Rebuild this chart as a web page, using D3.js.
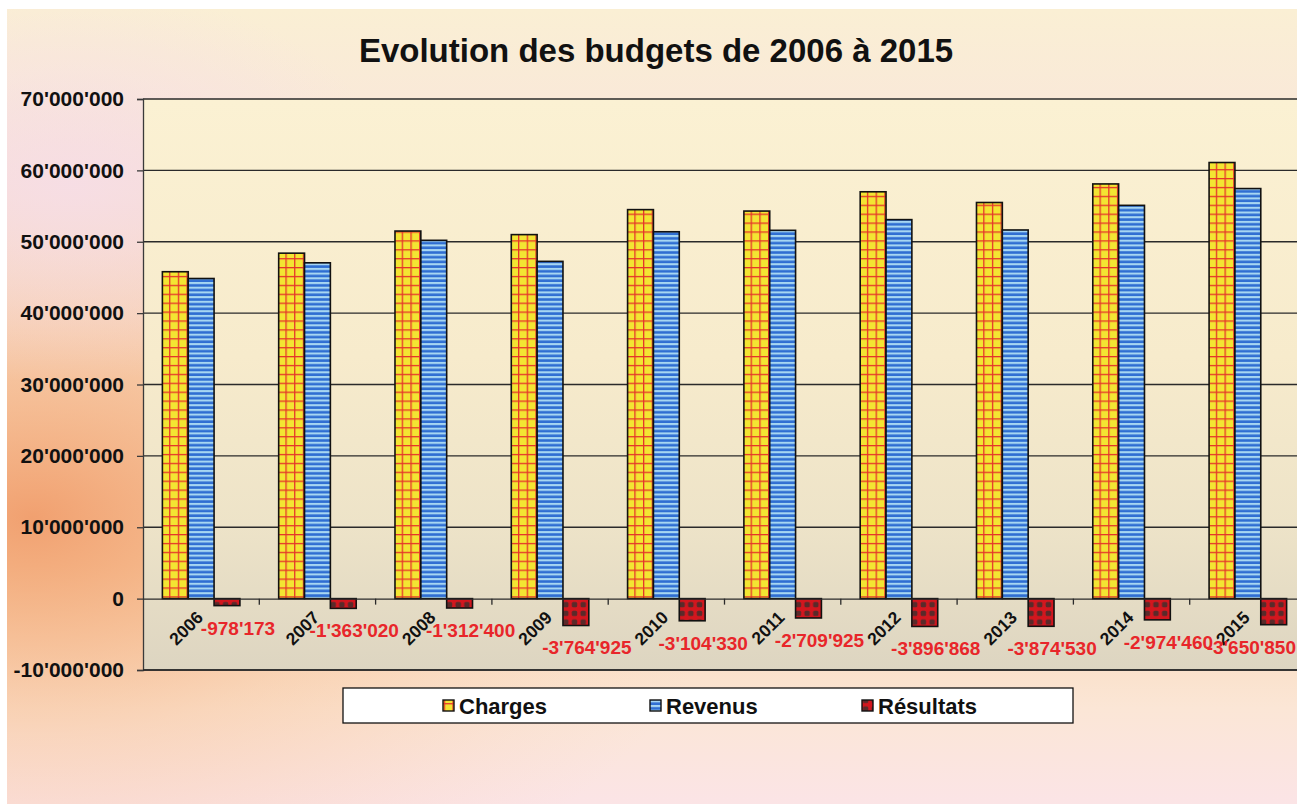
<!DOCTYPE html>
<html>
<head>
<meta charset="utf-8">
<script src="https://cdn.jsdelivr.net/npm/d3@7"></script>
<style>
  html, body { margin: 0; padding: 0; background: #ffffff; }
  svg { display: block; font-family: "Liberation Sans", Arial, sans-serif; }
</style>
</head>
<body>
<svg id="chart" width="1297" height="804"></svg>
<script>
// ---- data ----
const years = ["2006","2007","2008","2009","2010","2011","2012","2013","2014","2015"];
const charges = [45800000, 48400000, 51500000, 51000000, 54500000, 54300000, 57000000, 55500000, 58100000, 61100000];
const revenus = [44850000, 47050000, 50200000, 47250000, 51400000, 51600000, 53100000, 51650000, 55100000, 57450000];
const resultats = [-978173, -1363020, -1312400, -3764925, -3104330, -2709925, -3896868, -3874530, -2974460, -3650850];
const seriesNames = ["Charges", "Revenus", "Résultats"];
const yTicks = [-10000000, 0, 10000000, 20000000, 30000000, 40000000, 50000000, 60000000, 70000000];
const title = "Evolution des budgets de 2006 à 2015";

const fmt = v => (v < 0 ? "-" : "") + d3.format(",")(Math.abs(Math.round(v))).replace(/,/g, "'");

const svg = d3.select("#chart");
const defs = svg.append("defs");

// background gradients
const bg = defs.append("linearGradient").attr("id","bgGrad").attr("x1",0).attr("y1",0).attr("x2",0).attr("y2",1);
[[0,"#faefd4"],[0.22,"#f9e4dc"],[0.45,"#f8dcc4"],[0.7,"#f9d6b0"],[0.88,"#fbe6d6"],[1,"#fbe4e6"]]
  .forEach(([o,c]) => bg.append("stop").attr("offset",o).attr("stop-color",c));
const rad = defs.append("radialGradient").attr("id","bgRad").attr("cx",0.02).attr("cy",0.64).attr("r",0.55);
rad.append("stop").attr("offset",0).attr("stop-color","#f09a68").attr("stop-opacity",0.9);
rad.append("stop").attr("offset",0.5).attr("stop-color","#f6b888").attr("stop-opacity",0.35);
rad.append("stop").attr("offset",1).attr("stop-color","#f8d0b0").attr("stop-opacity",0);
const rad2 = defs.append("radialGradient").attr("id","bgRad2").attr("cx",0.05).attr("cy",0.22).attr("r",0.25);
rad2.append("stop").attr("offset",0).attr("stop-color","#f6dde6").attr("stop-opacity",0.9);
rad2.append("stop").attr("offset",1).attr("stop-color","#f6dde6").attr("stop-opacity",0);

const plotGrad = defs.append("linearGradient").attr("id","plotGrad").attr("x1",0).attr("y1",0).attr("x2",0).attr("y2",1);
[[0,"#fbf1d3"],[0.45,"#f7ebcc"],[0.75,"#ede3c8"],[1,"#ddd5c1"]]
  .forEach(([o,c]) => plotGrad.append("stop").attr("offset",o).attr("stop-color",c));

// patterns
const pC = defs.append("pattern").attr("id","patCharges").attr("patternUnits","userSpaceOnUse")
  .attr("width",8.7).attr("height",8.9);
pC.append("rect").attr("width",8.7).attr("height",8.9).attr("fill","#f3e532");
pC.append("rect").attr("x",0).attr("y",0).attr("width",1.3).attr("height",8.9).attr("fill","#e5352a");
pC.append("rect").attr("x",0).attr("y",0).attr("width",8.7).attr("height",1.3).attr("fill","#e5352a");

const pR = defs.append("pattern").attr("id","patRevenus").attr("patternUnits","userSpaceOnUse")
  .attr("width",8).attr("height",4.7);
pR.append("rect").attr("width",8).attr("height",4.7).attr("fill","#2f6ed2");
pR.append("rect").attr("y",0).attr("width",8).attr("height",2.1).attr("fill","#a6d6f2");

const pS = defs.append("pattern").attr("id","patResultats").attr("patternUnits","userSpaceOnUse")
  .attr("width",8.7).attr("height",8.7);
pS.append("rect").attr("width",8.7).attr("height",8.7).attr("fill","#d3161e");
pS.append("rect").attr("x",1.6).attr("y",1.6).attr("width",5.4).attr("height",5.4).attr("rx",1.5).attr("fill","#5a2a2a");

const fills = {"Charges":"url(#patCharges)","Revenus":"url(#patRevenus)","Résultats":"url(#patResultats)"};

// background
svg.append("rect").attr("x",7).attr("y",9).attr("width",1290).attr("height",795).attr("fill","url(#bgGrad)");
svg.append("rect").attr("x",7).attr("y",9).attr("width",1290).attr("height",795).attr("fill","url(#bgRad)");
svg.append("rect").attr("x",7).attr("y",9).attr("width",1290).attr("height",795).attr("fill","url(#bgRad2)");

// scales
const plotLeft = 143, plotTop = 99, plotBottom = 670;
const catW = 116.3;
const x0 = d3.scaleBand().domain(years).range([plotLeft, plotLeft + catW * years.length]).padding(0);
const bw = x0.bandwidth();
const x1 = d3.scaleBand().domain(seriesNames).range([bw * 0.1667, bw * 0.8333]).padding(0);
const y = d3.scaleLinear().domain([-10000000, 70000000]).range([plotBottom, plotTop]);
const plotRight = x0.range()[1];

// plot area
svg.append("rect").attr("x",plotLeft).attr("y",plotTop).attr("width",plotRight-plotLeft).attr("height",plotBottom-plotTop)
  .attr("fill","url(#plotGrad)");

// gridlines
svg.append("g").selectAll("line").data(yTicks.filter(t => t !== 0)).join("line")
  .attr("x1",plotLeft).attr("x2",plotRight).attr("y1",d=>y(d)).attr("y2",d=>y(d))
  .attr("stroke","#2a2a2a").attr("stroke-width",1.3);

// y axis
const yAxis = d3.axisLeft(y).tickValues(yTicks).tickSize(6).tickPadding(13).tickFormat(fmt);
const gy = svg.append("g").attr("transform",`translate(${plotLeft},0)`).call(yAxis);
gy.select(".domain").attr("stroke","#3a3a3a").attr("stroke-width",1.3);
gy.selectAll(".tick line").attr("stroke","#3a3a3a").attr("stroke-width",1.3);
gy.selectAll(".tick text").attr("font-size",21).attr("font-weight","bold").attr("fill","#111")
  .attr("font-family","'Liberation Sans', Arial, sans-serif");

// bars
const rows = years.map((yr,i) => ({year: yr, vals: [
  {s:"Charges", v: charges[i]}, {s:"Revenus", v: revenus[i]}, {s:"Résultats", v: resultats[i]}]}));

const groups = svg.append("g").selectAll("g").data(rows).join("g")
  .attr("transform", d => `translate(${x0(d.year)},0)`);
groups.selectAll("rect").data(d => d.vals).join("rect")
  .attr("x", d => x1(d.s)).attr("width", x1.bandwidth())
  .attr("y", d => y(Math.max(0, d.v))).attr("height", d => Math.abs(y(d.v) - y(0)))
  .attr("fill", d => fills[d.s]).attr("stroke","#111").attr("stroke-width",1.6);

// x axis at zero
const xAxis = d3.axisBottom(x0).tickSize(0).tickFormat("");
const gx = svg.append("g").attr("transform",`translate(0,${y(0)})`).call(xAxis);
gx.select(".domain").attr("stroke","#2a2a2a").attr("stroke-width",1.3);
svg.append("g").selectAll("line").data(years.slice(1)).join("line")
  .attr("x1", d => x0(d)).attr("x2", d => x0(d)).attr("y1", y(0)).attr("y2", y(0) + 6)
  .attr("stroke","#2a2a2a").attr("stroke-width",1.3);

// bottom border of plot
svg.append("line").attr("x1",plotLeft).attr("x2",plotRight).attr("y1",plotBottom).attr("y2",plotBottom)
  .attr("stroke","#2a2a2a").attr("stroke-width",1.3);

// year labels (rotated)
svg.append("g").selectAll("text").data(years).join("text")
  .attr("transform", d => `translate(${x0(d) + bw/2 + 3},${y(0) + 20}) rotate(-45)`)
  .attr("text-anchor","end").attr("font-size",17.5).attr("font-weight","bold").attr("fill","#111")
  .text(d => d);

// result labels
const resLabels = svg.append("g").selectAll("text").data(rows).join("text")
  .attr("y", d => y(d.vals[2].v) + 29)
  .attr("text-anchor","middle").attr("font-size",19).attr("font-weight","bold").attr("fill","#e8262a")
  .text(d => fmt(d.vals[2].v));
resLabels.each(function(d) {
  const w = this.getComputedTextLength();
  const cx = x0(d.year) + x1("Résultats") + x1.bandwidth()/2 + 11;
  d3.select(this).attr("x", Math.min(cx, 1296 - w/2));
});

// title
svg.append("text").attr("x",656).attr("y",62).attr("text-anchor","middle")
  .attr("font-size",33).attr("font-weight","bold").attr("fill","#111").text(title);

// legend
const lg = svg.append("g");
lg.append("rect").attr("x",343).attr("y",688).attr("width",730).attr("height",35)
  .attr("fill","#ffffff").attr("stroke","#111").attr("stroke-width",1.3);
const legX = [443, 650, 862];
seriesNames.forEach((s,i) => {
  lg.append("rect").attr("x",legX[i]).attr("y",700).attr("width",11).attr("height",11)
    .attr("fill",fills[s]).attr("stroke","#111").attr("stroke-width",1.4);
  lg.append("text").attr("x",legX[i] + 16).attr("y",714).attr("font-size",22).attr("font-weight","bold")
    .attr("fill","#111").text(s);
});
</script>
</body>
</html>
